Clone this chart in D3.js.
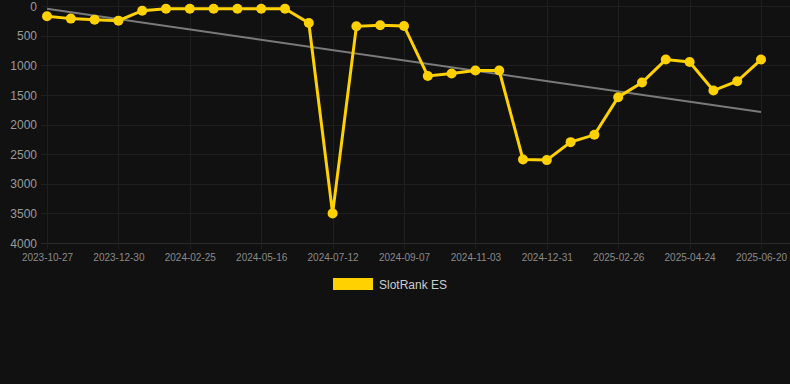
<!DOCTYPE html>
<html><head><meta charset="utf-8">
<script src="https://cdn.jsdelivr.net/npm/d3@7"></script>
<style>
html,body{margin:0;padding:0;background:#111111;}
svg{display:block;font-family:Arial,"Liberation Sans",sans-serif;}
</style></head>
<body><svg id="c" width="790" height="384"></svg>
<script>
const dates = ["2023-10-27","2023-11-17","2023-12-09","2023-12-30","2024-01-18","2024-02-06","2024-02-25","2024-03-22","2024-04-19","2024-05-16","2024-06-04","2024-06-23","2024-07-12","2024-07-31","2024-08-19","2024-09-07","2024-09-26","2024-10-15","2024-11-03","2024-11-22","2024-12-12","2024-12-31","2025-01-19","2025-02-07","2025-02-26","2025-03-17","2025-04-05","2025-04-24","2025-05-13","2025-06-01","2025-06-20"];
const ranks = [174,213,230,247,79,45,45,45,45,45,45,287,3500,343,326,337,1180,1140,1090,1090,2590,2601,2298,2174,1539,1292,904,944,1427,1270,904];
const tickDates = ["2023-10-27","2023-12-30","2024-02-25","2024-05-16","2024-07-12","2024-09-07","2024-11-03","2024-12-31","2025-02-26","2025-04-24","2025-06-20"];
const yTicks = [0,500,1000,1500,2000,2500,3000,3500,4000];
const seriesName = "SlotRank ES";

const svg = d3.select("#c");
const x = d3.scalePoint().domain(dates).range([47,761]);
const y = d3.scaleLinear().domain([0,4000]).range([6,243]);

// grid
const g = svg.append("g");
g.selectAll(".hg").data(yTicks).enter().append("line")
  .attr("x1",41).attr("x2",790).attr("y1",d=>Math.round(y(d))+0.5).attr("y2",d=>Math.round(y(d))+0.5)
  .attr("stroke",d=>d===4000?"#2a2a2a":"#1f1f1f").attr("stroke-width",1);
g.selectAll(".vg").data(tickDates).enter().append("line")
  .attr("x1",d=>Math.round(x(d))+0.5).attr("x2",d=>Math.round(x(d))+0.5).attr("y1",0).attr("y2",249)
  .attr("stroke","#1f1f1f").attr("stroke-width",1);

// axes labels
const yAxis = d3.axisLeft(y).tickValues(yTicks).tickFormat(d3.format("d")).tickSize(0).tickPadding(0);
const ya = svg.append("g").attr("transform","translate(37,0)").call(yAxis);
ya.select(".domain").remove();
ya.selectAll("text").attr("fill","#9a9a9a").style("font-size","12px").attr("dy","0.35em");

const xAxis = d3.axisBottom(x).tickValues(tickDates).tickSize(0).tickPadding(0);
const xa = svg.append("g").attr("transform","translate(0,254)").call(xAxis);
xa.select(".domain").remove();
xa.selectAll("text").attr("fill","#8a8a8a").style("font-size","10px").attr("dy","0.71em");

// trend (linear regression)
const n = ranks.length;
const idx = d3.range(n);
const mx = d3.mean(idx), my = d3.mean(ranks);
const slope = d3.sum(idx, i => (i-mx)*(ranks[i]-my)) / d3.sum(idx, i => (i-mx)*(i-mx));
const icpt = my - slope*mx;
svg.append("line")
  .attr("x1",x(dates[0])).attr("y1",y(icpt))
  .attr("x2",x(dates[n-1])).attr("y2",y(icpt+slope*(n-1)))
  .attr("stroke","#7a7a7a").attr("stroke-width",2);

// line
const line = d3.line().x((d,i)=>x(dates[i])).y(d=>y(d));
svg.append("path").datum(ranks).attr("d",line)
  .attr("fill","none").attr("stroke","#FFD100").attr("stroke-width",3);
svg.selectAll(".pt").data(ranks).enter().append("circle")
  .attr("cx",(d,i)=>x(dates[i])).attr("cy",d=>y(d)).attr("r",5)
  .attr("fill","#FFD100");

// legend
svg.append("rect").attr("x",333).attr("y",278).attr("width",40).attr("height",12).attr("fill","#FFD100");
svg.append("text").attr("x",379).attr("y",289).attr("fill","#cccccc").style("font-size","12px").text(seriesName);
</script></body></html>
